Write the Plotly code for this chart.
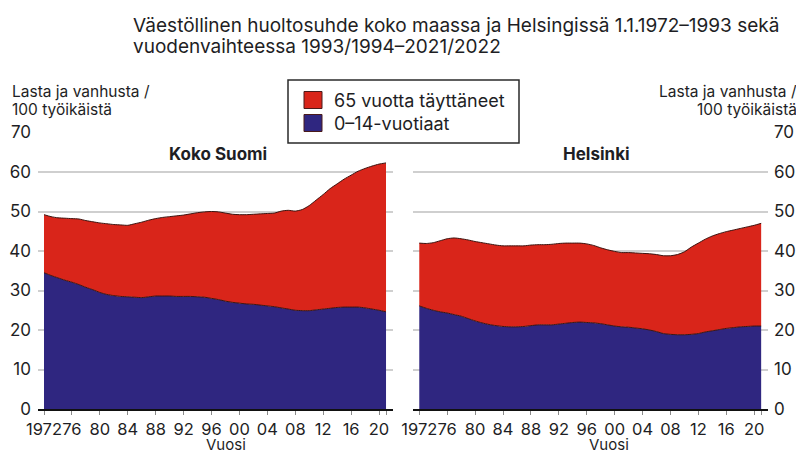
import plotly.graph_objects as go

# ---------------- data ----------------
years = list(range(1972, 2022))

suomi_total = [49.2, 48.7, 48.4, 48.3, 48.2, 48.1, 47.7, 47.4, 47.1, 46.9,
               46.7, 46.6, 46.5, 46.9, 47.3, 47.8, 48.2, 48.5, 48.7, 48.9,
               49.1, 49.4, 49.7, 49.9, 50.0, 49.9, 49.6, 49.3, 49.2, 49.2,
               49.3, 49.4, 49.5, 49.6, 50.1, 50.3, 50.1, 50.5, 51.5, 52.9,
               54.3, 55.8, 57.0, 58.2, 59.2, 60.2, 60.9, 61.5, 62.0, 62.3]
suomi_child = [34.5, 33.8, 33.2, 32.6, 32.1, 31.5, 30.8, 30.2, 29.5, 29.0,
               28.7, 28.5, 28.4, 28.3, 28.2, 28.4, 28.6, 28.6, 28.6, 28.5,
               28.5, 28.5, 28.4, 28.3, 28.0, 27.7, 27.3, 27.0, 26.8, 26.6,
               26.5, 26.3, 26.1, 25.9, 25.6, 25.3, 25.0, 24.9, 24.9, 25.1,
               25.3, 25.5, 25.7, 25.8, 25.8, 25.8, 25.6, 25.3, 25.0, 24.6]

hki_total = [42.0, 41.9, 42.1, 42.6, 43.1, 43.3, 43.1, 42.8, 42.4, 42.1,
             41.8, 41.5, 41.3, 41.3, 41.3, 41.3, 41.5, 41.6, 41.6, 41.7,
             41.9, 42.0, 42.0, 42.0, 41.8, 41.4, 40.8, 40.3, 39.9, 39.6,
             39.6, 39.5, 39.4, 39.3, 39.1, 38.8, 38.8, 39.1, 39.8, 41.0,
             42.0, 43.0, 43.8, 44.4, 44.9, 45.3, 45.7, 46.1, 46.5, 47.0]
hki_child = [26.1, 25.5, 25.0, 24.6, 24.3, 23.9, 23.5, 22.9, 22.3, 21.8,
             21.4, 21.1, 20.9, 20.8, 20.8, 20.9, 21.1, 21.3, 21.3, 21.3,
             21.5, 21.7, 21.9, 22.0, 21.9, 21.8, 21.6, 21.3, 21.0, 20.8,
             20.7, 20.5, 20.3, 20.0, 19.6, 19.1, 18.9, 18.8, 18.8, 18.9,
             19.1, 19.5, 19.8, 20.1, 20.4, 20.6, 20.8, 20.9, 21.0, 21.0]

tick_vals = [1972, 1976, 1980, 1984, 1988, 1992, 1996, 2000, 2004, 2008,
             2012, 2016, 2020, 2021]
tick_text = ["1972", "76", "80", "84", "88", "92", "96", "00", "04", "08",
             "12", "16", "20", ""]
y_ticks = [0, 10, 20, 30, 40, 50, 60, 70]

series_names = ["65 vuotta täyttäneet", "0–14-vuotiaat"]
panel_titles = ["Koko Suomi", "Helsinki"]
title_lines = ["Väestöllinen huoltosuhde koko maassa ja Helsingissä 1.1.1972–1993 sekä",
               "vuodenvaihteessa 1993/1994–2021/2022"]
y_title_lines = ["Lasta ja vanhusta /", "100 työikäistä"]
x_title = "Vuosi"

# ---------------- style ----------------
W, H = 796, 453
RED = "#d9251a"
BLUE = "#2f2680"
EDGE = "#3a1410"
TXT = "#1e1e24"
GRID = "#cfcfcf"
FONT = "Inter"


def px(x):
    return x / W


def py(y):
    return 1 - y / H


fig = go.Figure()

for i, (tot, child) in enumerate([(suomi_total, suomi_child), (hki_total, hki_child)]):
    xa = "x" if i == 0 else "x2"
    ya = "y" if i == 0 else "y2"
    fig.add_trace(go.Scatter(
        x=years, y=child, xaxis=xa, yaxis=ya, mode="lines",
        line=dict(color=EDGE, width=1, shape="spline", smoothing=0.6),
        fill="tozeroy", fillcolor=BLUE, name=series_names[1], showlegend=False,
        hoverinfo="skip"))
    fig.add_trace(go.Scatter(
        x=years, y=tot, xaxis=xa, yaxis=ya, mode="lines",
        line=dict(color=EDGE, width=1, shape="spline", smoothing=0.6),
        fill="tonexty", fillcolor=RED, name=series_names[0], showlegend=False,
        hoverinfo="skip"))

ydom = [py(409), py(132.5)]
common_x = dict(
    tickvals=tick_vals, ticktext=tick_text, ticks="outside", ticklen=4,
    tickcolor="#8a8a8a", tickwidth=1, showgrid=False, zeroline=False,
    showline=True, linecolor="#111111", linewidth=1.5, tickangle=0,
    automargin=False,
    tickfont=dict(family=FONT, size=16.5, color=TXT), fixedrange=True,
)
common_y = dict(
    range=[0, 70], tickvals=y_ticks, showgrid=True, gridcolor=GRID, gridwidth=1.5,
    zeroline=False, showline=False, ticks="", automargin=False,
    tickfont=dict(family=FONT, size=17, color=TXT), fixedrange=True,
)

fig.update_layout(
    width=W, height=H,
    margin=dict(l=0, r=0, t=0, b=0, pad=0, autoexpand=False),
    paper_bgcolor="white", plot_bgcolor="white",
    showlegend=False,
    xaxis=dict(domain=[px(38), px(393)], range=[1971.14, 2022.0], anchor="y", **common_x),
    xaxis2=dict(domain=[px(413), px(768)], range=[1971.1, 2021.98], anchor="y2", **common_x),
    yaxis=dict(domain=ydom, anchor="x", side="left", ticklabelstandoff=6, **common_y),
    yaxis2=dict(domain=ydom, anchor="x2", side="right", ticklabelstandoff=5, **common_y),
    font=dict(family=FONT, color=TXT),
)

# title (two lines)
for yc, line in zip([26, 47], title_lines):
    fig.add_annotation(x=px(131), y=py(yc), xref="paper", yref="paper", xanchor="left",
                       yanchor="middle", align="left", showarrow=False, text=line,
                       font=dict(family=FONT, size=19, color=TXT))

# y axis titles
for yc, line in zip([91, 109], y_title_lines):
    fig.add_annotation(x=px(10), y=py(yc), xref="paper", yref="paper", xanchor="left",
                       yanchor="middle", align="left", showarrow=False, text=line,
                       font=dict(family=FONT, size=15.5, color=TXT))
    fig.add_annotation(x=px(799), y=py(yc), xref="paper", yref="paper", xanchor="right",
                       yanchor="middle", align="right", showarrow=False, text=line,
                       font=dict(family=FONT, size=15.5, color=TXT))

# panel titles
for cx, t in zip([218, 596], panel_titles):
    fig.add_annotation(x=px(cx), y=py(154), xref="paper", yref="paper", xanchor="center",
                       yanchor="middle", showarrow=False, text="<b>" + t + "</b>",
                       font=dict(family=FONT, size=17, color=TXT))

# x axis titles
for cx in [226, 609]:
    fig.add_annotation(x=px(cx), y=py(444.5), xref="paper", yref="paper", xanchor="center",
                       yanchor="middle", showarrow=False, text=x_title, borderpad=0,
                       font=dict(family=FONT, size=15, color=TXT))

# manual legend
fig.add_shape(type="rect", xref="paper", yref="paper", x0=px(288), x1=px(519),
              y0=py(143), y1=py(80), line=dict(color="#2a2a2a", width=1.5),
              fillcolor="white", layer="above")
for i, (col, name) in enumerate(zip([RED, BLUE], series_names)):
    yc = 100 + i * 23
    fig.add_shape(type="rect", xref="paper", yref="paper", x0=px(304), x1=px(322),
                  y0=py(yc + 8.5), y1=py(yc - 8.5), line=dict(color="#4a1a1a", width=1),
                  fillcolor=col, layer="above")
    fig.add_annotation(x=px(332), y=py(yc), xref="paper", yref="paper", xanchor="left",
                       yanchor="middle", showarrow=False, text=name,
                       font=dict(family=FONT, size=18, color=TXT))

fig.write_html("out.html", config={"displayModeBar": False},
               post_script="document.body.style.margin='0px';document.body.style.padding='0px';")
